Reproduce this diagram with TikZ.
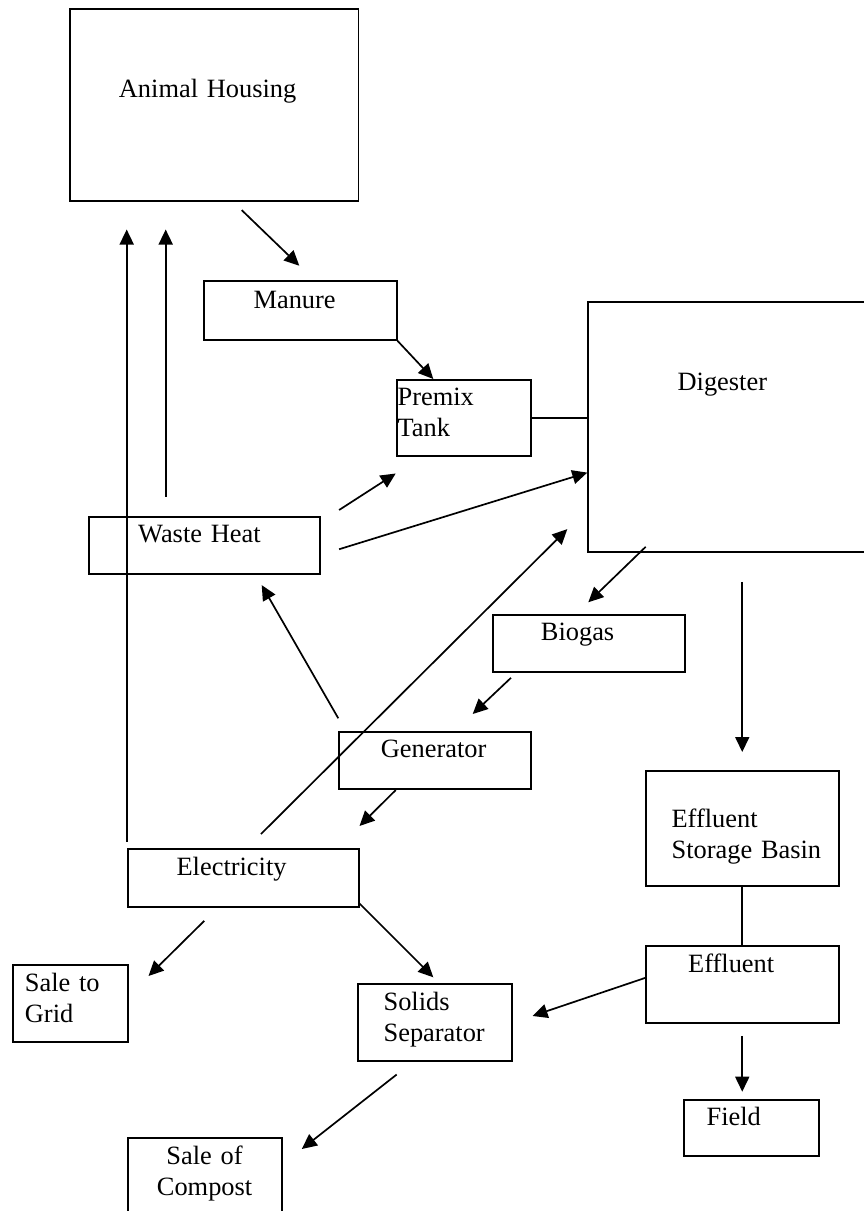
\documentclass[tikz,border=0pt]{standalone}
\usepackage{fontspec}
\setmainfont{Liberation Serif}
\usetikzlibrary{arrows.meta,calc}
\newcommand{\lpad}[1]{\hspace*{#1pt}}

\begin{document}
\begin{tikzpicture}[x=1pt,y=-1pt,
  box/.style={draw, line width=1.8pt, anchor=north west, inner sep=0pt, align=left,
    font=\fontsize{26.4}{30.7}\selectfont},
  arr/.style={-{Triangle[length=15pt,width=14pt]}, line width=1.7pt},
  link/.style={line width=1.7pt}]
\useasboundingbox (0,0) rectangle (864,1211);

% boxes
\node[box, text width=288.5pt, text height=89pt, text depth=103pt] (house) at (69,8) {\lpad{49}Animal Housing};
\node[box, text width=192.4pt, text height=28pt, text depth=31pt] (manure) at (203.3,280) {\lpad{49.4}Manure};
\node[box, text width=134.3pt, text height=26pt, text depth=50pt] (premix) at (395.7,379) {\lpad{1}Premix\\\lpad{1}Tank};
\node[box, text width=300pt, text height=89.3pt, text depth=160.7pt] (digester) at (587.3,300.7) {\lpad{89.4}Digester};
\node[box, text width=231pt, text height=25.7pt, text depth=31.6pt] (heat) at (88.3,516) {\lpad{49}Waste Heat};
\node[box, text width=192.3pt, text height=26pt, text depth=31pt] (biogas) at (491.7,614) {\lpad{48.3}Biogas};
\node[box, text width=192.3pt, text height=26.3pt, text depth=31.3pt] (gen) at (337.7,730.7) {\lpad{42.3}Generator};
\node[box, text width=231pt, text height=26.7pt, text depth=30.7pt] (elec) at (126.7,848.3) {\lpad{49}Electricity};
\node[box, text width=192.7pt, text height=56.7pt, text depth=58.3pt] (esb) at (645,770) {\lpad{25.7}Effluent\\\lpad{25.7}Storage Basin};
\node[box, text width=192.7pt, text height=26.7pt, text depth=50.6pt] (effl) at (645,945) {\lpad{42.3}Effluent};
\node[box, text width=115.6pt, text height=26.4pt, text depth=50.3pt] (grid) at (11.7,964.3) {\lpad{12.3}Sale to\\\lpad{12.3}Grid};
\node[box, text width=153.7pt, text height=26.7pt, text depth=50pt] (solids) at (357,983.3) {\lpad{25.7}Solids\\\lpad{25.7}Separator};
\node[box, align=center, text width=154pt, text height=26.7pt, text depth=100pt] (compost) at (126.7,1137.3) {Sale of\\Compost};
\node[box, text width=135pt, text height=26pt, text depth=30pt] (field) at (683.3,1099) {\lpad{22.4}Field};

% flows
\draw[arr] ($(house.south west)+(172.7,8.3)$) -- ($(manure.north west)+(96,-14.3)$);
\draw[arr] (manure.south east) -- ($(premix.north west)+(37.6,0)$);
\draw[link] (premix.east) -- (premix.east -| digester.west);
\draw[arr] ($(heat.north east)+(18,-6)$) -- ($(premix.south west)+(0,16.7)$);
\draw[arr] ($(heat.east)+(18,3.7)$) -- ($(digester.west)+(0,46)$);
\draw[arr] ($(elec.north west)+(134.3,-14.3)$) -- ($(digester.south west)+(-20,-23.4)$);
\draw[arr] ($(digester.south west)+(58.4,-5.7)$) -- ($(biogas.north west)+(96.6,-11.7)$);
\draw[arr] ($(esb.north |- digester.south)+(0,29.3)$) -- ($(esb.north)+(0,-18)$);
\draw[arr] ($(biogas.south west)+(19.3,5)$) -- ($(gen.north west)+(135,-16.7)$);
\draw[arr] ($(gen.north west)+(0.6,-12.4)$) -- ($(heat.south west)+(173.4,10)$);
\draw[arr] ($(gen.south west)+(58,0)$) -- ($(elec.north east)+(0,-22.3)$);
\draw[arr] ($(elec.north west)+(0,-6.6)$) -- ($(elec.north west |- house.south)+(0,27.7)$);
\draw[arr] ($(heat.north west)+(77.4,-19.3)$) -- ($(heat.north west |- house.south)+(77.4,27.7)$);
\draw[arr] ($(elec.south west)+(77.6,13.3)$) -- ($(grid.north east)+(19.4,11.7)$);
\draw[arr] ($(elec.south east)+(0,-4)$) -- ($(solids.north west)+(76.3,-6)$);
\draw[arr] ($(effl.west)+(0,-6.6)$) -- ($(solids.east)+(20,-6.6)$);
\draw[link] (esb.south) -- (effl.north);
\draw[arr] ($(effl.south)+(0,11.7)$) -- ($(effl.south |- field.north)+(0,-7.3)$);
\draw[arr] ($(solids.south west)+(39.7,12.7)$) -- ($(compost.north east)+(19.3,11.7)$);
\end{tikzpicture}
\end{document}
